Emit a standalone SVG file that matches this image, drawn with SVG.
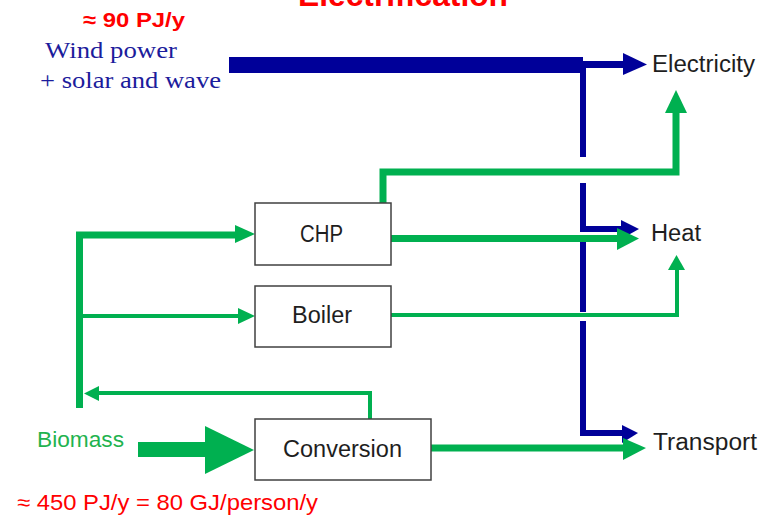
<svg xmlns="http://www.w3.org/2000/svg" width="760" height="516" viewBox="0 0 760 516">
<style>
.lbl{font-family:"Liberation Sans",Arial,sans-serif;font-size:23px;fill:#1e1e1e}
.box{fill:#fff;stroke:#404040;stroke-width:1.5}
.blue{stroke:#000099;fill:none}
.green{stroke:#00b050;fill:none}
.bh{fill:#000099}
.gh{fill:#00b050}
.red{font-family:"Liberation Sans",Arial,sans-serif;fill:#ff0000}
.serif{font-family:"Liberation Serif","Times New Roman",serif;font-size:24px;fill:#1c1c9c}
</style>
<rect width="760" height="516" fill="#fff"/>
<text class="red" x="403" y="6" font-size="31" font-weight="bold" text-anchor="middle" textLength="210" lengthAdjust="spacingAndGlyphs">Electrification</text>
<text class="red" x="83" y="27" font-size="21" font-weight="bold" textLength="102" lengthAdjust="spacingAndGlyphs">≈ 90 PJ/y</text>
<text class="serif" x="45" y="58" textLength="132" lengthAdjust="spacingAndGlyphs">Wind power</text>
<text class="serif" x="40" y="88" textLength="181" lengthAdjust="spacingAndGlyphs">+ solar and wave</text>
<text x="37" y="447" font-family="Liberation Sans,Arial,sans-serif" font-size="22" fill="#1fb34f" textLength="87" lengthAdjust="spacingAndGlyphs">Biomass</text>
<text class="red" x="17" y="510" font-size="22" textLength="301" lengthAdjust="spacingAndGlyphs">≈ 450 PJ/y = 80 GJ/person/y</text>

<g id="connectors">
  <!-- blue wind power -->
  <rect x="229" y="57" width="354" height="16" class="bh"/>
  <path class="blue" stroke-width="7" d="M583 64.5 H624"/>
  <polygon class="bh" points="623,53 647,64.5 623,75"/>
  <path class="blue" stroke-width="6" d="M583 64 V157 M583 183 V229 H622 M583 240 V312 M583 321 V433 H623"/>
  <polygon class="bh" points="621,220 639,229 621,239"/>
  <polygon class="bh" points="622,425 638,433 622,443"/>
  <!-- CHP to electricity -->
  <path class="green" stroke-width="7" d="M383 203 V172 H676 V112"/>
  <polygon class="gh" points="665,113 676,90 687,113"/>
  <!-- CHP to heat -->
  <path class="green" stroke-width="7" d="M391 238.5 H618"/>
  <polygon class="gh" points="617,228 639,238.5 617,250"/>
  <!-- Boiler to heat -->
  <path class="green" stroke-width="4" d="M391 315 H677 V269"/>
  <polygon class="gh" points="668,270 676.5,255 685,270"/>
  <!-- Conversion to transport -->
  <path class="green" stroke-width="7" d="M431 448 H624"/>
  <polygon class="gh" points="623,438 646,448 623,460"/>
  <!-- biomass distribution -->
  <path class="green" stroke-width="7" d="M79.5 408 V235 H236"/>
  <polygon class="gh" points="235,225 255,234 235,243"/>
  <path class="green" stroke-width="4" d="M80 316 H239"/>
  <polygon class="gh" points="238,308 255,316 238,324"/>
  <!-- conversion return -->
  <path class="green" stroke-width="4" d="M370 419 V393 H98"/>
  <polygon class="gh" points="99,386 84,393.5 99,401"/>
  <!-- biomass input -->
  <rect x="138" y="442" width="68" height="15" class="gh"/>
  <polygon class="gh" points="205,426 254,450 205,474"/>
</g>

<g id="chp">
  <rect class="box" x="255" y="203" width="136" height="62"/>
  <text class="lbl" x="321.5" y="242" text-anchor="middle" textLength="43" lengthAdjust="spacingAndGlyphs">CHP</text>
</g>
<g id="boiler">
  <rect class="box" x="255" y="286" width="136" height="61"/>
  <text class="lbl" x="322" y="323" text-anchor="middle" textLength="60" lengthAdjust="spacingAndGlyphs">Boiler</text>
</g>
<g id="conversion">
  <rect class="box" x="255" y="419" width="176" height="61"/>
  <text class="lbl" x="342.5" y="457" text-anchor="middle" textLength="119" lengthAdjust="spacingAndGlyphs">Conversion</text>
</g>
<g id="electricity">
  <text class="lbl" x="652" y="72" textLength="103" lengthAdjust="spacingAndGlyphs">Electricity</text>
</g>
<g id="heat">
  <text class="lbl" x="651" y="241" textLength="50" lengthAdjust="spacingAndGlyphs">Heat</text>
</g>
<g id="transport">
  <text class="lbl" x="653" y="450" textLength="104" lengthAdjust="spacingAndGlyphs">Transport</text>
</g>
</svg>
